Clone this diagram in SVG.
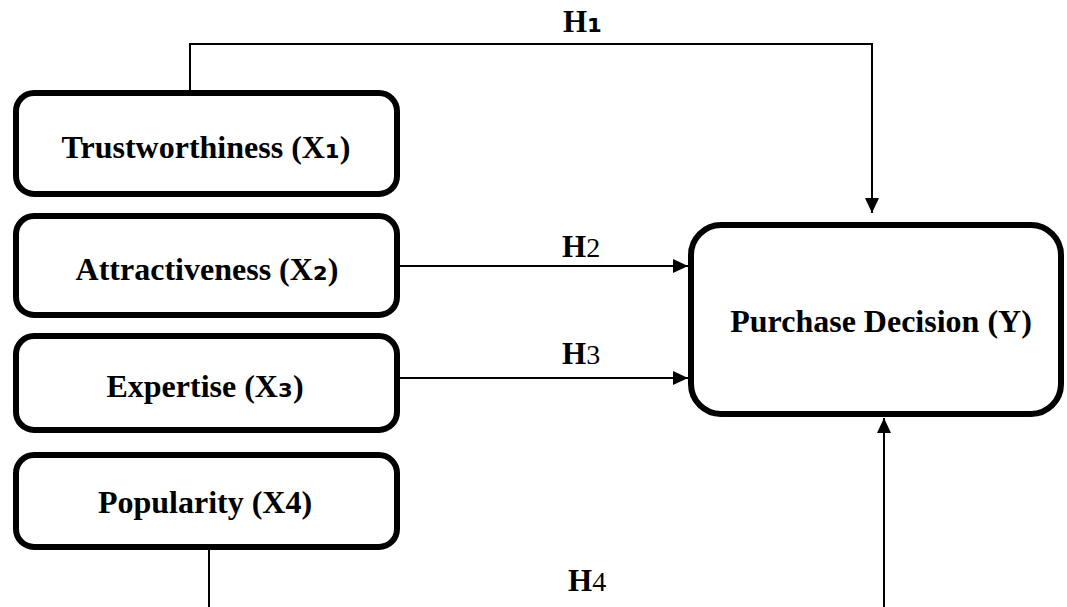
<svg xmlns="http://www.w3.org/2000/svg" width="1067" height="607" viewBox="0 0 1067 607">
  <style>
    .box { fill: #ffffff; stroke: #000000; stroke-width: 6; }
    .lbl { font-family: "Liberation Serif", "DejaVu Sans", serif; font-weight: bold; font-size: 32px; fill: #000; text-anchor: middle; }
    .sub { font-family: "DejaVu Sans", sans-serif; font-weight: bold; font-size: 34px; }
    .h { font-family: "Liberation Serif", "DejaVu Sans", serif; font-size: 31px; fill: #000; }
    .hb { font-weight: bold; }
    .dig { font-weight: normal; font-size: 28px; }
    .con { fill: none; stroke: #000; stroke-width: 2; }
  </style>
  <defs>
    <marker id="arr" markerUnits="userSpaceOnUse" markerWidth="16" markerHeight="14" refX="15" refY="7" orient="auto">
      <path d="M0,0 L15,7 L0,14 z" fill="#000"/>
    </marker>
  </defs>
  <rect width="1067" height="607" fill="#ffffff"/>

  <g id="connectors">
    <polyline class="con" points="190,93 190,44 872,44 872,213" marker-end="url(#arr)"/>
    <line class="con" x1="400" y1="266" x2="688" y2="266" marker-end="url(#arr)"/>
    <line class="con" x1="400" y1="378" x2="688" y2="378" marker-end="url(#arr)"/>
    <polyline class="con" points="209,550 209,625 884,625 884,418" marker-end="url(#arr)"/>
    <text class="h hb" x="563" y="32">H<tspan class="sub" font-size="30px">₁</tspan></text>
    <text class="h" x="562" y="257"><tspan class="hb">H</tspan><tspan class="dig">2</tspan></text>
    <text class="h" x="562" y="364"><tspan class="hb">H</tspan><tspan class="dig">3</tspan></text>
    <text class="h" x="568" y="591"><tspan class="hb">H</tspan><tspan class="dig">4</tspan></text>
  </g>

  <g id="trustworthiness">
    <rect class="box" x="16" y="93" width="381" height="101" rx="18"/>
    <text class="lbl" x="206" y="158">Trustworthiness (X<tspan class="sub">₁</tspan>)</text>
  </g>
  <g id="attractiveness">
    <rect class="box" x="16" y="216" width="381" height="99" rx="18"/>
    <text class="lbl" x="207" y="280">Attractiveness (X<tspan class="sub">₂</tspan>)</text>
  </g>
  <g id="expertise">
    <rect class="box" x="16" y="336" width="381" height="94" rx="18"/>
    <text class="lbl" x="205" y="397">Expertise (X<tspan class="sub">₃</tspan>)</text>
  </g>
  <g id="popularity">
    <rect class="box" x="16" y="455" width="381" height="92" rx="18"/>
    <text class="lbl" x="205" y="513">Popularity (X4)</text>
  </g>
  <g id="purchase-decision">
    <rect class="box" x="691" y="225" width="370" height="189" rx="30"/>
    <text class="lbl" x="881" y="332">Purchase Decision (Y)</text>
  </g>
</svg>
